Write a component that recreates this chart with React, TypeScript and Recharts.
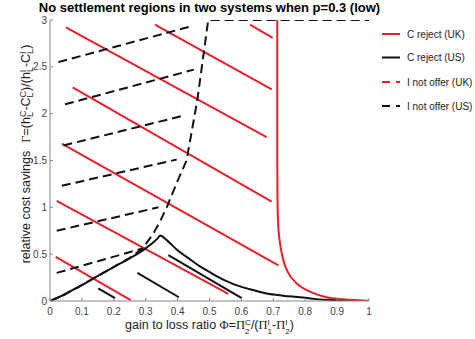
import { LineChart, Line, XAxis, YAxis } from "recharts";

const xTicks = [0, 0.1, 0.2, 0.3, 0.4, 0.5, 0.6, 0.7, 0.8, 0.9, 1];
const yTicks = [0, 0.5, 1, 1.5, 2, 2.5, 3];

// C reject (UK) boundary: vertical drop then tail to (1,0)
const ukRejectX = [0.7125, 0.7125, 0.713, 0.715, 0.721, 0.731, 0.747, 0.773, 0.815, 0.867, 0.919, 1.0];
const ukRejectY = [3.0, 1.5, 1.15, 0.83, 0.62, 0.44, 0.3, 0.19, 0.1, 0.04, 0.018, 0.0];

// C reject (US) boundary: rises to a peak then decays
const usRejectX = [0, 0.042, 0.094, 0.146, 0.198, 0.25, 0.303, 0.34, 0.345, 0.366, 0.397, 0.439, 0.47, 0.5, 0.522, 0.575, 0.627, 0.679, 0.731, 0.784, 0.836, 0.888, 1.0];
const usRejectY = [0, 0.064, 0.16, 0.26, 0.36, 0.455, 0.57, 0.68, 0.7, 0.65, 0.55, 0.445, 0.37, 0.31, 0.265, 0.18, 0.125, 0.08, 0.057, 0.04, 0.02, 0.01, 0.0];

// I not offer (US) boundary
const usOfferX = [0, 0.042, 0.094, 0.146, 0.198, 0.25, 0.29, 0.324, 0.345, 0.366, 0.397, 0.428, 0.449, 0.462, 0.47, 0.486, 0.496, 1.0];
const usOfferY = [0, 0.06, 0.16, 0.26, 0.36, 0.46, 0.56, 0.72, 0.85, 1.0, 1.26, 1.5, 1.9, 2.15, 2.35, 2.75, 3.0, 3.0];

// hatch segments [x1, y1, x2, y2]
const ukRejectHatch = [
  [0.627, 2.95, 0.698, 2.81],
  [0.329, 2.95, 0.695, 2.26],
  [0.05, 2.92, 0.679, 1.75],
  [0.071, 2.28, 0.695, 1.06],
  [0.037, 1.68, 0.716, 0.38],
  [0.021, 1.07, 0.559, 0.075],
  [0.018, 0.47, 0.253, 0.01],
];
const usRejectHatch = [
  [0.151, 0.135, 0.204, 0.03],
  [0.274, 0.3, 0.404, 0.04],
  [0.371, 0.49, 0.601, 0.03],
];
const usOfferHatch = [
  [0.026, 2.55, 0.439, 2.93],
  [0.047, 2.1, 0.451, 2.47],
  [0.042, 1.66, 0.42, 1.98],
  [0.037, 1.23, 0.397, 1.51],
  [0.021, 0.75, 0.34, 1.0],
  [0.021, 0.3, 0.29, 0.56],
];

const legendItems = [
  { name: "C reject (UK)", color: "#e8202a", dash: undefined },
  { name: "C reject (US)", color: "#111", dash: undefined },
  { name: "I not offer (UK)", color: "#e8202a", dash: "8 6" },
  { name: "I not offer (US)", color: "#111", dash: "8 6" },
];

const RED = "#e8202a";
const BLACK = "#111";
const SANS = "'Liberation Sans', Arial, Helvetica, sans-serif";
const SERIF = "'Liberation Serif', 'Times New Roman', serif";
const DASH = "9 5";

const toPoints = (xs: number[], ys: number[]) => xs.map((x, i) => ({ x, y: ys[i] }));
const segPoints = (s: number[]) => [
  { x: s[0], y: s[1] },
  { x: s[2], y: s[3] },
];

export default function App() {
  const tick = { fontSize: 10, fill: "#444", fontFamily: SANS };
  return (
    <div style={{ position: "absolute", left: 0, top: 0, width: 475, height: 339, background: "#fff" }}>
      <LineChart width={475} height={339} margin={{ top: 20, right: 106, bottom: 0, left: 0 }}>
        <XAxis
          type="number"
          dataKey="x"
          domain={[0, 1]}
          ticks={xTicks}
          height={38}
          tick={tick}
          tickSize={-3}
          tickMargin={10}
          stroke="#888"
          allowDataOverflow
        />
        <YAxis
          type="number"
          dataKey="y"
          domain={[0, 3]}
          ticks={yTicks}
          width={50}
          tick={tick}
          tickSize={-3}
          tickMargin={6}
          stroke="#888"
          allowDataOverflow
        />
        {ukRejectHatch.map((s, i) => (
          <Line key={"uh" + i} data={segPoints(s)} dataKey="y" type="linear" stroke={RED} strokeWidth={2} dot={false} isAnimationActive={false} />
        ))}
        {usOfferHatch.map((s, i) => (
          <Line key={"oh" + i} data={segPoints(s)} dataKey="y" type="linear" stroke={BLACK} strokeWidth={2} strokeDasharray={DASH} dot={false} isAnimationActive={false} />
        ))}
        {usRejectHatch.map((s, i) => (
          <Line key={"rh" + i} data={segPoints(s)} dataKey="y" type="linear" stroke={BLACK} strokeWidth={2} dot={false} isAnimationActive={false} />
        ))}
        <Line data={toPoints(usOfferX, usOfferY)} dataKey="y" type="linear" stroke={BLACK} strokeWidth={2} strokeDasharray={DASH} dot={false} isAnimationActive={false} />
        <Line data={toPoints(usRejectX, usRejectY)} dataKey="y" type="monotone" stroke={BLACK} strokeWidth={2} dot={false} isAnimationActive={false} />
        <Line data={toPoints(ukRejectX, ukRejectY)} dataKey="y" type="monotone" stroke={RED} strokeWidth={2} dot={false} isAnimationActive={false} />
      </LineChart>

      <svg width={475} height={339} style={{ position: "absolute", left: 0, top: 0, pointerEvents: "none" }}>
        <text x={209.5} y={11.5} textAnchor="middle" fontSize={13} fontWeight="bold" fontFamily={SANS} fill="#000">
          No settlement regions in two systems when p=0.3 (low)
        </text>

        <text transform="translate(30,154) rotate(-90)" textAnchor="middle" fontSize={12.5} fontFamily={SANS} fill="#222">
          <tspan>relative cost savings</tspan>
          <tspan dx={8} fontFamily={SERIF}>Γ</tspan>
          <tspan>=(h</tspan>
          <tspan fontSize={9} dy={-4.5}>C</tspan>
          <tspan fontSize={9} dx={-6.5} dy={7.5}>L</tspan>
          <tspan dx={1.5} dy={-3}>-C</tspan>
          <tspan fontSize={9} dy={-4.5}>C</tspan>
          <tspan fontSize={9} dx={-6.5} dy={7.5}>L</tspan>
          <tspan dx={1.5} dy={-3}>)/(h</tspan>
          <tspan fontSize={9} dy={-4.5}>I</tspan>
          <tspan fontSize={9} dx={-2.5} dy={7.5}>L</tspan>
          <tspan dy={-3}>-C</tspan>
          <tspan fontSize={9} dy={-4.5}>I</tspan>
          <tspan fontSize={9} dx={-2.5} dy={7.5}>L</tspan>
          <tspan dy={-3}>)</tspan>
        </text>

        <text x={209.5} y={329} textAnchor="middle" fontSize={12.5} fontFamily={SANS} fill="#222">
          <tspan>gain to loss ratio </tspan>
          <tspan fontFamily={SERIF}>Φ</tspan>
          <tspan>=</tspan>
          <tspan fontFamily={SERIF}>Π</tspan>
          <tspan fontSize={8} dy={-4.5}>C</tspan>
          <tspan fontSize={8} dx={-5.8} dy={9}>2</tspan>
          <tspan dx={1.4} dy={-4.5}>/(</tspan>
          <tspan fontFamily={SERIF}>Π</tspan>
          <tspan fontSize={8} dy={-4.5}>I</tspan>
          <tspan fontSize={8} dx={-2.2} dy={9}>1</tspan>
          <tspan dy={-4.5}>-</tspan>
          <tspan fontFamily={SERIF}>Π</tspan>
          <tspan fontSize={8} dy={-4.5}>I</tspan>
          <tspan fontSize={8} dx={-2.2} dy={9}>2</tspan>
          <tspan dy={-4.5}>)</tspan>
        </text>

        {legendItems.map((it, i) => {
          const y = [34, 57.5, 82, 106][i];
          return (
            <g key={it.name}>
              <line x1={382} x2={400} y1={y} y2={y} stroke={it.color} strokeWidth={2} strokeDasharray={it.dash} />
              <text x={407} y={y + 3.5} fontSize={10} fontFamily={SANS} fill="#222">
                {it.name}
              </text>
            </g>
          );
        })}
      </svg>
    </div>
  );
}
